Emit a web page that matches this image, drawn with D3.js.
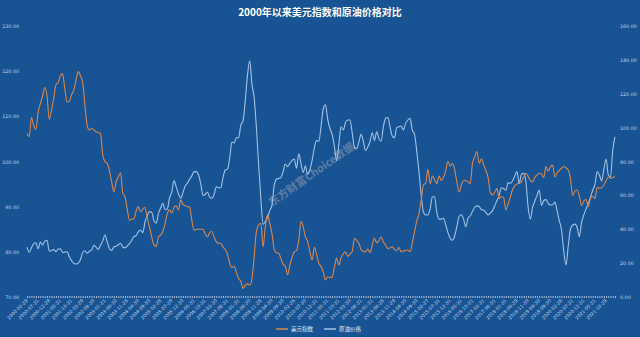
<!DOCTYPE html>
<html>
<head>
<meta charset="utf-8">
<script src="https://cdn.jsdelivr.net/npm/d3@7"></script>
<style>
  body { margin: 0; background: #185394; }
  svg { display: block; }
</style>
</head>
<body>
<div id="chart"></div>
<script>
// month-end trading days, 2000-02 .. 2022-02
function monthEnds(year, month, count) {
  const fmt = d3.utcFormat("%Y-%m-%d");
  const out = [];
  for (let k = 0; k < count; k++) {
    const d = new Date(Date.UTC(year, month + k + 1, 0));
    while (d.getUTCDay() === 0 || d.getUTCDay() === 6) d.setUTCDate(d.getUTCDate() - 1);
    out.push(fmt(d));
  }
  return out;
}

const dates = monthEnds(2000, 1, 265);

const seriesNames = ["美元指数", "原油价格"];
const leftTicks = [70, 80, 90, 100, 110, 120, 130];
const rightTicks = [0, 20, 40, 60, 80, 100, 120, 140, 160];

const usdIndex = [
  106.2, 105.5, 109.8, 108, 107.1, 111, 112.8, 114.5, 116.4, 114.5,
  109.3, 111.4, 114, 117, 117.5, 119, 119.4, 116, 113.2, 113.3,
  114.8, 115.8, 118, 119.9, 119, 117.5, 112.5, 108, 107, 107.3,
  107, 106.6, 106.4, 106.2, 101.5, 100, 99.6, 98, 95.5, 93.3,
  95.5, 96.6, 97.5, 93, 92.2, 89.5, 87, 87.2, 87.3, 89,
  90, 88.9, 89.5, 89.8, 87.5, 85.5, 83.3, 81.5, 81.2, 83.3,
  83.7, 84.5, 86.3, 88.5, 89.3, 88.6, 89.8, 90.2, 89.3, 91.5,
  90.5, 90.2, 90, 89.9, 87, 84.8, 85, 85, 85, 85,
  84, 83.3, 84.2, 84.5, 83.3, 82.2, 81.9, 81.9, 81.1, 80.5,
  79.5, 77.5, 76.5, 76.8, 75.5, 74.1, 73.5, 71.9, 72.6, 72.9,
  72.6, 74, 79, 84.5, 86, 86.3, 81.1, 85.6, 88.2, 86.3,
  84, 80.5, 79.8, 79.7, 78.5, 77.2, 76.8, 74.9, 77, 78.8,
  80, 80.3, 82.5, 86.7, 85.6, 83.3, 82.3, 80, 78.2, 81,
  79.5, 77.5, 76.8, 75.5, 73.8, 74.5, 74.3, 74.4, 76.5, 78.6,
  77.1, 78.7, 79.5, 80, 79, 79.5, 80, 83, 82.5, 81.9,
  80.5, 80.1, 80, 80.6, 79.8, 81.5, 83, 82, 82.5, 83.3,
  82.2, 81.5, 80.7, 80.9, 81.1, 80.5, 80.3, 81, 80, 80.2,
  80.3, 80.4, 80, 82, 84.5, 86.8, 88.5, 91.5, 94.8, 95.2,
  98.3, 95.1, 96.8, 96, 95.1, 96.8, 95.8, 96.5, 98, 100,
  99, 99.6, 98.2, 95.5, 93.3, 94.8, 95.8, 95.8, 95.5, 95.1,
  99.6, 101, 102.2, 99.6, 100.6, 99.3, 98, 96.5, 93.2, 92.6,
  93.2, 94, 91.8, 92.2, 92, 89.3, 90.6, 92.1, 93.8, 94.6,
  95, 95.2, 95.5, 96.5, 97.4, 96.7, 95.8, 95.5, 96.5, 97,
  97.4, 97.2, 96.5, 98.9, 97.9, 98.8, 99.2, 96.6, 97.5, 98,
  98.5, 98.9, 98.6, 98.1, 96.2, 92.5, 93.5, 93.7, 92.3, 90.2,
  91.3, 91.6, 90, 91.8, 92.3, 91.8, 94.3, 94.1, 94.2, 94.8,
  95.8, 96.5, 96.3, 96.5, 96.6
];

const oilPrice = [
  29.5, 26.5, 29, 31.5, 32, 28.5, 32.5, 30.8, 33, 33.5,
  27, 27.5, 28, 26.8, 28.3, 28.5, 26.2, 26.5, 26.8, 23.8,
  21.5, 19.8, 19.5, 20, 22, 26.3, 27.3, 25.8, 27, 27.7,
  30.5, 29.5, 28, 30.5, 33, 36.6, 32.6, 28.5, 27.5, 29.5,
  30, 30.8, 31.7, 29.5, 29, 30.1, 31.5, 33.5, 35.6, 36.3,
  38.5, 39.6, 38, 44.5, 48, 50.4, 50, 45, 43.5, 49.4,
  52.5, 55.3, 51.5, 52, 58.5, 62, 68.7, 65, 61, 58.3,
  61.5, 65.5, 67.1, 69.5, 71.5, 74, 74, 72, 67, 60,
  60.5, 62, 59, 58.3, 60.5, 65.1, 64.5, 64.5, 70.5, 75,
  75.5, 82, 91.5, 91, 94, 94, 101.5, 104, 116, 131,
  139.5, 125.5, 117.5, 100, 78, 58, 43, 44.5, 47, 51,
  54.5, 66, 69.5, 70, 70.5, 74, 78.5, 77, 78.9, 80.5,
  81.5, 76, 84.5, 79, 73.5, 77.5, 72.5, 75, 80.5, 88,
  92.5, 91.8, 100.5, 111, 113.5, 105, 99.5, 96, 89, 80.5,
  90, 100.5, 98.6, 103, 104.5, 104.5, 97, 88.5, 87.5, 91.5,
  96, 92, 86.5, 88.5, 91.8, 97, 92.5, 97.5, 93.5, 92,
  100.5, 105.5, 106, 100.5, 95, 94, 100, 100.5, 101, 98.6,
  102.5, 104.5, 105.5, 98.5, 96, 86, 74, 60, 50, 48.4,
  48.4, 52, 59.2, 59.2, 50, 46, 46, 46.5, 42.5, 38,
  34.7, 33.5, 36, 41.5, 47.5, 48.5, 46, 41.5, 46.5, 48,
  50.5, 53, 53.8, 53.5, 51.6, 51.4, 50, 48.5, 49.5, 51,
  53.8, 57, 60, 64.5, 64, 63, 67.5, 67, 68.5, 71.5,
  74, 67, 72.5, 73, 68, 53, 46, 53, 56.5, 60,
  63.2, 54, 57, 57.5, 55.3, 54.3, 54.5, 56, 51, 45,
  39.6, 27, 18.9, 30, 40, 42.5, 43, 41, 35.6, 44,
  48.5, 52, 55.3, 59, 63, 66.5, 74, 72, 68.5, 75.5,
  81.5, 72, 71, 86.8, 94.5
];

class DualAxisLine {
  constructor(options) {
    this.el = options.el;
    this.width = 640;
    this.height = 337;
    this.plot = { left: 27, right: 615, top: 26, bottom: 297 };
    this.colors = ["#d8874f", "#a3c2e6"];
    this.textColor = "#c6d4ea";
    this._init();
  }

  _init() {
    this.svg = d3.select(this.el).append("svg")
      .attr("width", this.width)
      .attr("height", this.height);
    this.svg.append("rect")
      .attr("width", this.width)
      .attr("height", this.height)
      .attr("fill", "#185394");
    this._createTitle();
    this._createScales();
    this._createXaxis();
    this._createYaxis();
    this._createWatermark();
    this._createLines();
    this._createLegend();
  }

  _createTitle() {
    this.svg.append("text")
      .attr("x", 320)
      .attr("y", 16)
      .attr("text-anchor", "middle")
      .attr("fill", "#ffffff")
      .attr("font-family", "'Noto Sans CJK SC', sans-serif")
      .attr("font-weight", "bold")
      .attr("font-size", 10)
      .text("2000年以来美元指数和原油价格对比");
  }

  _createScales() {
    this.xScale = d3.scalePoint()
      .domain(dates)
      .range([this.plot.left, this.plot.right]);
    this.yLeft = d3.scaleLinear()
      .domain([70, 130])
      .range([this.plot.bottom, this.plot.top]);
    this.yRight = d3.scaleLinear()
      .domain([0, 160])
      .range([this.plot.bottom, this.plot.top]);
  }

  _createXaxis() {
    const g = this.svg.append("g")
      .attr("class", "xAxis")
      .attr("transform", `translate(0,${this.plot.bottom - 1})`)
      .call(d3.axisBottom(this.xScale).tickSize(2).tickFormat(""));
    g.select(".domain").remove();
    g.selectAll(".tick line").attr("stroke", this.textColor).attr("stroke-width", 0.8);

    const labelDates = dates.filter((d, i) => i % 5 === 0);
    this.svg.append("g")
      .attr("class", "xLabels")
      .selectAll("text")
      .data(labelDates)
      .enter()
      .append("text")
      .attr("transform", d => `translate(${this.xScale(d) + 1},${this.plot.bottom + 4}) rotate(-45)`)
      .attr("text-anchor", "end")
      .attr("fill", this.textColor)
      .attr("font-family", "'DejaVu Sans', sans-serif")
      .attr("font-size", 4.6)
      .text(d => d);
  }

  _createYaxis() {
    const fmt = d3.format(".2f");
    const left = this.svg.append("g")
      .attr("class", "yAxis")
      .attr("transform", "translate(19,0)")
      .call(d3.axisLeft(this.yLeft).tickValues(leftTicks).tickSize(0).tickPadding(0).tickFormat(fmt));
    const right = this.svg.append("g")
      .attr("class", "yAxis")
      .attr("transform", "translate(620,0)")
      .call(d3.axisRight(this.yRight).tickValues(rightTicks).tickSize(0).tickPadding(0).tickFormat(fmt));
    [left, right].forEach(g => {
      g.select(".domain").remove();
      g.selectAll("text")
        .attr("fill", this.textColor)
        .attr("font-family", "'DejaVu Sans', sans-serif")
        .attr("font-size", 4.8);
    });
  }

  _createWatermark() {
    this.svg.append("text")
      .attr("transform", "translate(312,175) rotate(-35)")
      .attr("text-anchor", "middle")
      .attr("dominant-baseline", "middle")
      .attr("fill", "#8e99ad")
      .attr("opacity", 0.6)
      .attr("font-family", "'Noto Sans CJK SC', sans-serif")
      .attr("font-weight", "bold")
      .attr("font-size", 11)
      .text("东方财富Choice数据");
  }

  _createLines() {
    const lineLeft = d3.line()
      .x((d, i) => this.xScale(dates[i]))
      .y(d => this.yLeft(d))
      .curve(d3.curveMonotoneX);
    const lineRight = d3.line()
      .x((d, i) => this.xScale(dates[i]))
      .y(d => this.yRight(d))
      .curve(d3.curveMonotoneX);

    this.svg.append("path")
      .datum(oilPrice)
      .attr("fill", "none")
      .attr("stroke", this.colors[1])
      .attr("stroke-width", 1.1)
      .attr("d", lineRight);
    this.svg.append("path")
      .datum(usdIndex)
      .attr("fill", "none")
      .attr("stroke", this.colors[0])
      .attr("stroke-width", 1.1)
      .attr("d", lineLeft);
  }

  _createLegend() {
    const items = [{ x: 276, name: seriesNames[0] }, { x: 324, name: seriesNames[1] }];
    const g = this.svg.append("g").attr("class", "legend");
    items.forEach((d, i) => {
      g.append("line")
        .attr("x1", d.x).attr("x2", d.x + 12)
        .attr("y1", 329).attr("y2", 329)
        .attr("stroke", this.colors[i])
        .attr("stroke-width", 1.5);
      g.append("text")
        .attr("x", d.x + 15)
        .attr("y", 331)
        .attr("fill", "#e6edf7")
        .attr("font-family", "'Noto Sans CJK SC', sans-serif")
        .attr("font-size", 5.5)
        .text(d.name);
    });
  }
}

new DualAxisLine({ el: "#chart" });
</script>
</body>
</html>
